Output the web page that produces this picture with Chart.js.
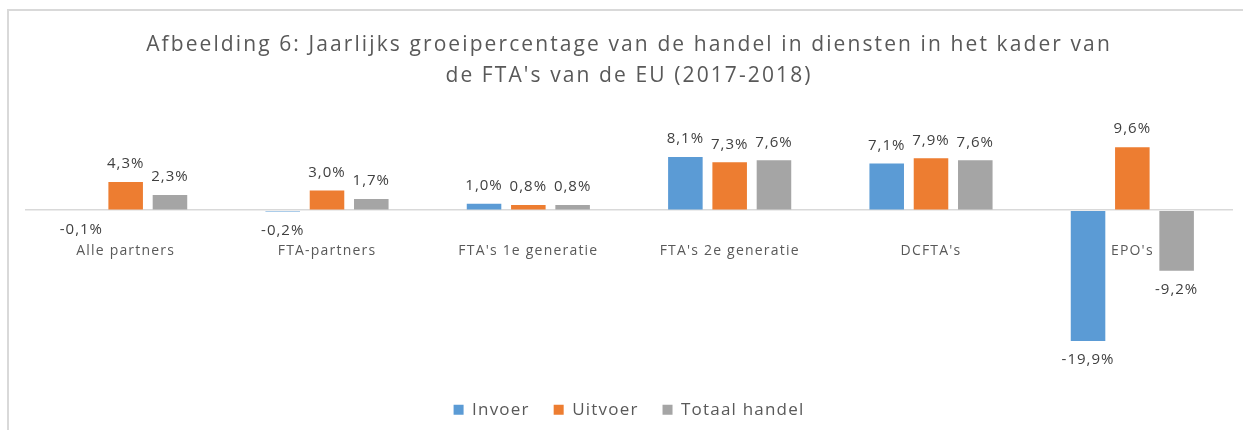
<!DOCTYPE html>
<html>
<head>
<meta charset="utf-8">
<script src="https://cdn.jsdelivr.net/npm/chart.js@4.4.1/dist/chart.umd.min.js"></script>
<style>
  html, body { margin: 0; padding: 0; background: #fff; overflow: hidden; width: 1243px; height: 430px; }
  #wrap { position: absolute; left: 7px; top: 9px; border-left: 2px solid #d9d9d9; border-top: 2px solid #d9d9d9; width: 1240px; height: 430px; }
  canvas { display: block; }
</style>
</head>
<body>
<div id="wrap"><canvas id="c" width="1238" height="430"></canvas></div>
<script>
const categories = ["Alle partners", "FTA-partners", "FTA's 1e generatie", "FTA's 2e generatie", "DCFTA's", "EPO's"];
const invoer = [-0.1, -0.2, 1.0, 8.1, 7.1, -19.9];
const uitvoer = [4.3, 3.0, 0.8, 7.3, 7.9, 9.6];
const totaal = [2.3, 1.7, 0.8, 7.6, 7.6, -9.2];
const seriesNames = ["Invoer", "Uitvoer", "Totaal handel"];
const titleLines = ["Afbeelding 6: Jaarlijks groeipercentage van de handel in diensten in het kader van", "de FTA's van de EU (2017-2018)"];

const FONT = "'Open Sans', 'Liberation Sans', sans-serif";
const fmt = v => v.toFixed(1).replace('.', ',') + '%';

const spacingPlugin = {
  id: 'spacing',
  afterInit(chart) {
    const ctx = chart.ctx;
    const wrap = (obj, name, ls) => {
      if (!obj || typeof obj[name] !== 'function') return;
      const orig = obj[name];
      obj[name] = function (...a) {
        const prev = ctx.letterSpacing;
        ctx.letterSpacing = ls;
        try { return orig.apply(this, a); } finally { ctx.letterSpacing = prev || '0px'; }
      };
    };
    wrap(chart.titleBlock, 'draw', '2.1px');
    wrap(chart.legend, 'fit', '1.2px');
    wrap(chart.legend, 'draw', '1.2px');
  }
};

const labelPlugin = {
  id: 'labels',
  afterDatasetsDraw(chart) {
    const ctx = chart.ctx;
    ctx.save();
    ctx.letterSpacing = '1px';
    ctx.font = "15px " + FONT;
    ctx.fillStyle = '#404040';
    ctx.textAlign = 'center';
    ctx.textBaseline = 'middle';
    chart.data.datasets.forEach((ds, di) => {
      const meta = chart.getDatasetMeta(di);
      meta.data.forEach((el, i) => {
        const v = ds.data[i];
        const y = v >= 0 ? el.y - 18 : el.y + 19;
        ctx.fillText(fmt(v), el.x, y);
      });
    });
    const xs = chart.scales.x, ys = chart.scales.y;
    ctx.letterSpacing = '1.2px';
    ctx.font = "14px " + FONT;
    ctx.fillStyle = '#595959';
    const y0 = ys.getPixelForValue(0);
    categories.forEach((c, i) => {
      ctx.fillText(c, xs.getPixelForValue(i), y0 + 41);
    });
    ctx.restore();
  }
};

new Chart(document.getElementById('c'), {
  type: 'bar',
  data: {
    labels: categories,
    datasets: [
      { label: seriesNames[0], data: invoer, backgroundColor: '#5B9BD5' },
      { label: seriesNames[1], data: uitvoer, backgroundColor: '#ED7D31' },
      { label: seriesNames[2], data: totaal, backgroundColor: '#A5A5A5' }
    ]
  },
  options: {
    responsive: false,
    animation: false,
    devicePixelRatio: 1,
    layout: { padding: { left: 16, right: 14, top: 0, bottom: 12.8 } },
    datasets: { bar: { categoryPercentage: 0.66, barPercentage: 0.78 } },
    scales: {
      x: { display: false },
      y: {
        display: true,
        min: -25.4, max: 12,
        afterBuildTicks: s => { s.ticks = [{ value: 0 }]; },
        ticks: { display: false },
        border: { display: false },
        grid: { drawTicks: false, color: '#d9d9d9', lineWidth: 1.5 }
      }
    },
    plugins: {
      tooltip: { enabled: false },
      title: {
        display: true,
        text: titleLines,
        color: '#595959',
        font: { family: FONT, size: 21, weight: 'normal', lineHeight: 1.5 },
        padding: { top: 18.25, bottom: 39.1 }
      },
      legend: {
        position: 'bottom',
        labels: {
          boxWidth: 10, boxHeight: 10,
          padding: 24,
          color: '#595959',
          font: { family: FONT, size: 17 }
        }
      }
    }
  },
  plugins: [spacingPlugin, labelPlugin]
});
</script>
</body>
</html>
